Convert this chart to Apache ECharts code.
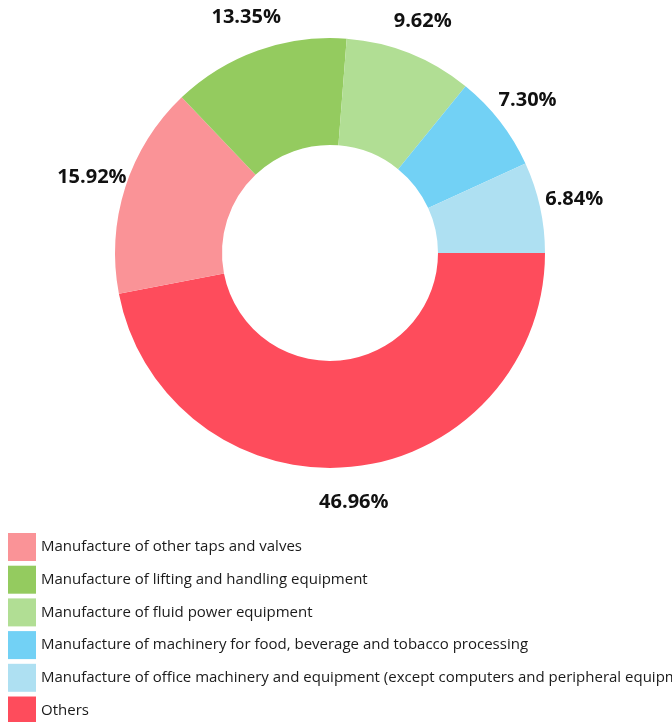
<!DOCTYPE html>
<html>
<head>
<meta charset="utf-8">
<script src="https://cdn.jsdelivr.net/npm/echarts@6/dist/echarts.min.js"></script>
<style>
html, body { margin: 0; padding: 0; background: #fff; }
#main { width: 672px; height: 722px; }
</style>
</head>
<body>
<div id="main"></div>
<script>
var myChart = echarts.init(document.getElementById('main'));

// legend order
var categories = [
    'Manufacture of other taps and valves',
    'Manufacture of lifting and handling equipment',
    'Manufacture of fluid power equipment',
    'Manufacture of machinery for food, beverage and tobacco processing',
    'Manufacture of office machinery and equipment (except computers and peripheral equipment)',
    'Others'
];
var shares = [15.92, 13.35, 9.62, 7.30, 6.84, 46.96];
var colors = ['#FA9397', '#94CB5F', '#B1DE94', '#72D1F5', '#AEE0F2', '#FE4C5C'];

// slices go clockwise from 3 o'clock starting with Others
var drawOrder = [5, 0, 1, 2, 3, 4];
var pieData = drawOrder.map(function (i) {
    return { name: categories[i], value: shares[i], itemStyle: { color: colors[i] } };
});

var cx = 330, cy = 253, labelR = 250;
var total = pieData.reduce(function (s, d) { return s + d.value; }, 0);

// put each label centred on a ring just outside the donut
function placeLabel(params) {
    var before = 0;
    for (var k = 0; k < params.dataIndex; k++) before += pieData[k].value;
    var mid = (before + pieData[params.dataIndex].value / 2) / total * Math.PI * 2;
    return {
        x: cx + labelR * Math.cos(mid),
        y: cy + labelR * Math.sin(mid),
        align: 'center',
        verticalAlign: 'middle'
    };
}

option = {
    legend: {
        orient: 'vertical',
        left: 8,
        top: 533,
        height: 220,
        padding: 0,
        itemWidth: 28,
        itemHeight: 28,
        itemGap: 4.7,
        icon: 'rect',
        data: categories,
        textStyle: {
            fontFamily: 'Open Sans',
            fontSize: 15,
            color: '#1a1a1a'
        }
    },
    series: [
        {
            type: 'pie',
            center: [cx, cy],
            radius: [108, 215],
            startAngle: 0,
            clockwise: true,
            silent: true,
            data: pieData,
            label: {
                show: true,
                position: 'outside',
                overflow: 'none',
                formatter: function (p) { return p.value.toFixed(2) + '%'; },
                fontFamily: 'Open Sans',
                fontWeight: 'bold',
                fontSize: 20,
                color: '#111'
            },
            labelLine: { show: false },
            labelLayout: placeLabel
        }
    ]
};

myChart.setOption(option);
</script>
</body>
</html>
